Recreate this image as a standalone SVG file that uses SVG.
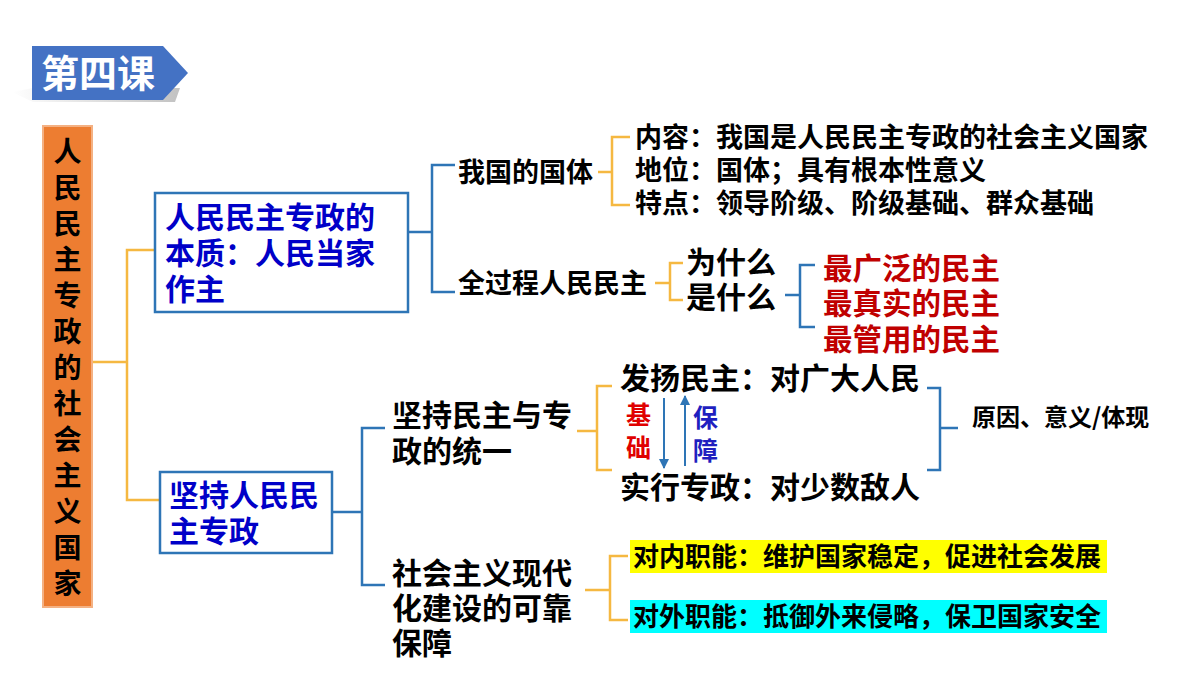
<svg xmlns="http://www.w3.org/2000/svg" width="1200" height="675" viewBox="0 0 1200 675">
<defs>
<style>
text{font-family:"Noto Sans CJK SC","Liberation Sans",sans-serif;font-weight:bold;fill:#000}
.bl{fill:none;stroke:#2E75B6;stroke-width:2.5}
.yl{fill:none;stroke:#F5B841;stroke-width:2.5}
.box{fill:#fff;stroke:#2E75B6;stroke-width:2.5}
.dk{fill:#0000C8;font-size:30px}
.red{fill:#C00000;font-size:29.5px}
.m{font-size:27px}
.l{font-size:30px}
</style>
<marker id="ar" viewBox="0 0 10 10" refX="9" refY="5" markerWidth="5" markerHeight="5" orient="auto"><path d="M0,0L10,5L0,10z" fill="#2E75B6"/></marker>
<linearGradient id="sh" x1="0" x2="1"><stop offset="0" stop-color="#fff"/><stop offset="1" stop-color="#999"/></linearGradient>
</defs>
<rect width="1200" height="675" fill="#fff"/>
<g id="title">
<path d="M12,92 L33,88 L180,88 L175,102 L33,102 Z" fill="url(#sh)" opacity="0.6"/>
<polygon points="32,46 163,46 188,73 163,100 32,100" fill="#4472C4"/>
<text x="41" y="87" style="fill:#fff;font-size:38px">第四课</text>
</g>
<g id="connectors">
<path class="yl" d="M92,362 H127 M155,250 H127 V500 H160"/>
<path class="bl" d="M408,232 H432 M455,165 H432 V292 H455"/>
<path class="yl" d="M598,172 H612 M630,137 H612 V205 H630"/>
<path class="yl" d="M655,283 H670 M683,263 H670 V300 H683"/>
<path class="bl" d="M785,295 H800 M815,265 H800 V327 H815"/>
<path class="bl" d="M332,512 H362 M385,428 H362 V585 H385"/>
<path class="yl" d="M577,431 H597 M612,386 H597 V470 H612"/>
<path class="bl" d="M927,388 H940 V470 H927 M940,428 H958"/>
<path class="yl" d="M585,590 H610 M628,556 H610 V620 H628"/>
<line x1="664" y1="398" x2="664" y2="468" stroke="#2E75B6" stroke-width="2" marker-end="url(#ar)"/>
<line x1="685" y1="466" x2="685" y2="396" stroke="#2E75B6" stroke-width="2" marker-end="url(#ar)"/>
</g>
<g id="root">
<rect x="43" y="126" width="49" height="481" fill="#ED7D31" stroke="#F4B183" stroke-width="2"/>
<text x="67.5" style="font-size:28px" text-anchor="middle">
<tspan x="67.5" y="162">人</tspan><tspan x="67.5" y="198">民</tspan><tspan x="67.5" y="234">民</tspan><tspan x="67.5" y="270">主</tspan><tspan x="67.5" y="306">专</tspan><tspan x="67.5" y="342">政</tspan><tspan x="67.5" y="378">的</tspan><tspan x="67.5" y="414">社</tspan><tspan x="67.5" y="450">会</tspan><tspan x="67.5" y="486">主</tspan><tspan x="67.5" y="522">义</tspan><tspan x="67.5" y="558">国</tspan><tspan x="67.5" y="594">家</tspan>
</text>
</g>
<g id="n1">
<rect class="box" x="155" y="193" width="253" height="119"/>
<text class="dk" x="165" y="228">人民民主专政的</text>
<text class="dk" x="165" y="264">本质：人民当家</text>
<text class="dk" x="165" y="300">作主</text>
</g>
<g id="n2">
<rect class="box" x="160" y="472" width="172" height="81"/>
<text class="dk" x="169" y="506">坚持人民民</text>
<text class="dk" x="169" y="542">主专政</text>
</g>
<g id="n-guoti"><text class="m" x="458" y="182">我国的国体</text></g>
<g id="n-guoti-items">
<text class="m" x="635" y="147">内容：我国是人民民主专政的社会主义国家</text>
<text class="m" x="635" y="180">地位：国体；具有根本性意义</text>
<text class="m" x="635" y="213">特点：领导阶级、阶级基础、群众基础</text>
</g>
<g id="n-quan"><text class="m" x="458" y="293">全过程人民民主</text></g>
<g id="n-why">
<text class="l" x="686" y="273">为什么</text>
<text class="l" x="686" y="308">是什么</text>
</g>
<g id="n-most">
<text class="red" x="823" y="279">最广泛的民主</text>
<text class="red" x="823" y="314">最真实的民主</text>
<text class="red" x="823" y="350">最管用的民主</text>
</g>
<g id="n-tongyi">
<text class="l" x="392" y="426">坚持民主与专</text>
<text class="l" x="392" y="462">政的统一</text>
</g>
<g id="n-fy"><text class="l" x="620" y="389">发扬民主：对广大人民</text></g>
<g id="n-sx"><text class="l" x="620" y="498">实行专政：对少数敌人</text></g>
<g id="n-jc">
<text x="626" y="424" style="font-size:25px;fill:#E00000">基</text>
<text x="626" y="457" style="font-size:25px;fill:#E00000">础</text>
</g>
<g id="n-bz">
<text x="693" y="427" style="font-size:25px;fill:#1F1FC0">保</text>
<text x="693" y="460" style="font-size:25px;fill:#1F1FC0">障</text>
</g>
<g id="n-yy"><text x="972" y="426" style="font-size:24px">原因、意义/体现</text></g>
<g id="n-bzh">
<text class="l" x="392" y="584">社会主义现代</text>
<text class="l" x="392" y="619">化建设的可靠</text>
<text class="l" x="392" y="654">保障</text>
</g>
<g id="n-nei">
<rect x="630" y="540" width="477" height="33" fill="#FFFF00"/>
<text x="633" y="566" style="font-size:26px">对内职能：维护国家稳定，促进社会发展</text>
</g>
<g id="n-wai">
<rect x="630" y="600" width="477" height="33" fill="#00FFFF"/>
<text x="633" y="626" style="font-size:26px">对外职能：抵御外来侵略，保卫国家安全</text>
</g>
</svg>
